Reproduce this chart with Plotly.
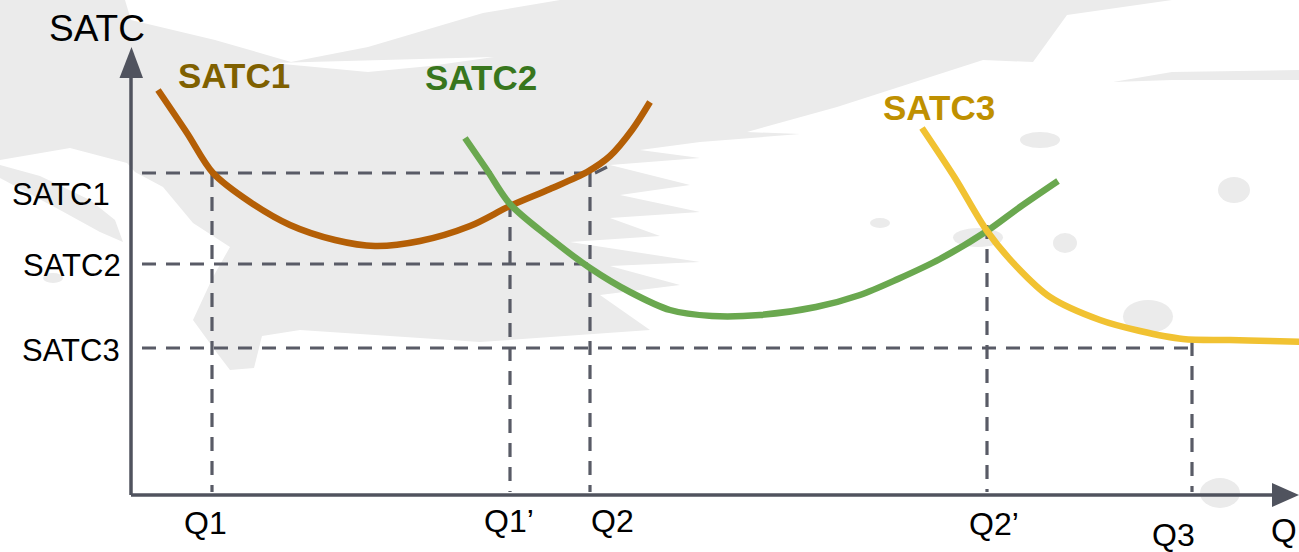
import plotly.graph_objects as go

# ---------------- data (Q and SATC in chart units) ----------------
satc1_q = [2.7, 5.6, 8.2, 11.9, 15.9, 20.4, 24.4, 28.9, 33.9, 37.9, 41.9, 45.6, 47.9, 50.1, 51.9]
satc1_v = [40.5, 36.2, 32.2, 29.3, 27.0, 25.5, 24.9, 25.4, 26.9, 28.9, 30.6, 32.3, 33.9, 36.5, 39.3]

satc2_q = [33.4, 35.6, 37.9, 41.9, 45.9, 49.9, 53.9, 58.1, 62.9, 68.5, 72.9, 76.7, 80.9, 85.6, 88.9, 92.7]
satc2_v = [35.7, 32.5, 29.1, 25.7, 22.7, 20.3, 18.5, 17.9, 18.0, 18.8, 20.0, 21.6, 23.6, 26.4, 28.8, 31.4]

satc3_q = [79.1, 82.4, 85.6, 88.6, 91.9, 96.9, 100.9, 105.2, 109.9, 113.9, 117.9]
satc3_v = [36.7, 31.7, 26.4, 22.8, 19.8, 17.5, 16.4, 15.6, 15.5, 15.4, 15.3]

# guide levels and quantities
level_names = ["SATC1", "SATC2", "SATC3"]
level_values = [32.2, 23.1, 14.7]
level_ends = [45.6, 46.0, 106.1]          # Q where horizontal guide stops

q_names = ["Q1", "Q1\u2019", "Q2", "Q2\u2019", "Q3"]
q_values = [8.1, 37.9, 45.9, 85.6, 106.1]
q_tops = [32.2, 29.2, 32.2, 27.0, 15.3]   # SATC where vertical guide starts

curve_names = ["SATC1", "SATC2", "SATC3"]

# ---------------- styles ----------------
W, H = 1299, 552
X0, X1 = -13.1, 116.8
Y0, Y1 = -5.7, 49.5
FONT = "Liberation Sans, Arial, sans-serif"
AXIS_C = "#50535e"
DASH_C = "#595b66"
GRAY = "#ebebeb"
curve_colors = ["#b45f06", "#6aa84f", "#f1c232"]
label_colors = ["#7f6000", "#38761d", "#bf9000"]


def px(x, y):
    return x / W, 1 - y / H


def path_from(points):
    s = ""
    for i, (x, y) in enumerate(points):
        a, b = px(x, y)
        s += ("M" if i == 0 else "L") + f"{a:.5f},{b:.5f} "
    return s + "Z"


fig = go.Figure()

# ---------------- decorative brush background ----------------
main_bg = [(0, 0), (125, 0), (131, 20), (215, 40), (291, 62), (368, 47), (483, 13), (560, 0),
           (1172, 0), (1067, 15), (1033, 62), (983, 60), (837, 107), (747, 132), (800, 134),
           (700, 142), (640, 150), (700, 158), (610, 165), (690, 185), (620, 195), (700, 212),
           (610, 218), (660, 236), (570, 242), (700, 262), (610, 266), (680, 285), (600, 295),
           (650, 330), (480, 342), (300, 330), (262, 336), (254, 368), (230, 370), (217, 353),
           (193, 320), (213, 277), (230, 247), (193, 223), (163, 187), (135, 172), (127, 163),
           (70, 148), (0, 160)]
band_bg = [(0, 165), (40, 176), (90, 200), (115, 220), (123, 242), (100, 232), (60, 210), (0, 178)]
streak1 = [(272, 63), (494, 57), (430, 66), (368, 72)]
strip_bg = [(1113, 82), (1172, 72), (1299, 70), (1299, 80), (1172, 80)]
shapes = []
for poly in [main_bg, band_bg, strip_bg]:
    shapes.append(dict(type="path", path=path_from(poly), xref="paper", yref="paper",
                       fillcolor=GRAY, line=dict(width=0), layer="below"))
shapes.append(dict(type="path", path=path_from(streak1), xref="paper", yref="paper",
                   fillcolor="white", line=dict(width=0), layer="below"))
blobs = [(1020, 132, 1060, 148), (1218, 177, 1250, 203), (1053, 233, 1077, 253),
         (953, 228, 1003, 247), (1123, 300, 1173, 333), (870, 218, 890, 228),
         (1200, 478, 1240, 508), (43, 273, 63, 283)]
for (xa, ya, xb, yb) in blobs:
    a0, b0 = px(xa, yb)
    a1, b1 = px(xb, ya)
    shapes.append(dict(type="circle", xref="paper", yref="paper", x0=a0, y0=b0, x1=a1, y1=b1,
                       fillcolor=GRAY, line=dict(width=0), layer="below"))

# ---------------- axes with arrows ----------------
shapes.append(dict(type="line", xref="x", yref="y", x0=0, y0=0, x1=0, y1=41.7,
                   line=dict(color=AXIS_C, width=3.5)))
shapes.append(dict(type="line", xref="x", yref="y", x0=0, y0=0, x1=114.2, y1=0,
                   line=dict(color=AXIS_C, width=3.5)))
shapes.append(dict(type="path", xref="x", yref="y",
                   path="M-1.15,41.7 L1.2,41.7 L0.05,44.8 Z",
                   fillcolor=AXIS_C, line=dict(width=0)))
shapes.append(dict(type="path", xref="x", yref="y",
                   path="M114.1,1.2 L114.1,-1.2 L116.8,0 Z",
                   fillcolor=AXIS_C, line=dict(width=0)))

# ---------------- dashed guides ----------------
dash_line = dict(color=DASH_C, width=3.2, dash="14px,10px")
for lv, le in zip(level_values, level_ends):
    fig.add_trace(go.Scatter(x=[1.1, le], y=[lv, lv], mode="lines", line=dash_line,
                             hoverinfo="skip"))
for qv, qt in zip(q_values, q_tops):
    fig.add_trace(go.Scatter(x=[qv, qv], y=[qt, 0.3], mode="lines", line=dash_line,
                             hoverinfo="skip"))
# small stray dash near SATC1/Q2 corner
fig.add_trace(go.Scatter(x=[46.4, 47.6], y=[32.2, 32.8], mode="lines",
                         line=dict(color=DASH_C, width=3.2), hoverinfo="skip"))

# ---------------- curves ----------------
for qs, vs, c in zip([satc1_q, satc2_q, satc3_q], [satc1_v, satc2_v, satc3_v], curve_colors):
    fig.add_trace(go.Scatter(x=qs, y=vs, mode="lines",
                             line=dict(color=c, width=6.5, shape="spline", smoothing=0.9),
                             hoverinfo="skip"))

# ---------------- labels ----------------
ann = []


def add_text(text, x, y, size, color="black", bold=False, xanchor="center"):
    a, b = px(x, y)
    ann.append(dict(text=f"<b>{text}</b>" if bold else text, x=a, y=b, xref="paper",
                    yref="paper", showarrow=False, xanchor=xanchor, yanchor="middle",
                    font=dict(family=FONT, size=size, color=color)))


add_text("SATC", 97, 28, 37)
add_text("Q", 1284, 530, 33)
ylab_pos = [(112, 194), (123, 265), (122, 350)]
for name, (x, y) in zip(level_names, ylab_pos):
    add_text(name, x, y, 31, xanchor="right")
qlab_pos = [(205, 523), (509, 521), (612, 521), (994, 524), (1173, 535)]
for name, (x, y) in zip(q_names, qlab_pos):
    add_text(name, x, y, 32)
clab_pos = [(234, 76), (481, 77), (939, 108)]
for name, (x, y), c in zip(curve_names, clab_pos, label_colors):
    add_text(name, x, y, 35, color=c, bold=True)

fig.update_layout(
    width=W, height=H, margin=dict(l=0, r=0, t=0, b=0),
    paper_bgcolor="white", plot_bgcolor="rgba(0,0,0,0)",
    showlegend=False, shapes=shapes, annotations=ann,
    xaxis=dict(range=[X0, X1], visible=False, fixedrange=True),
    yaxis=dict(range=[Y0, Y1], visible=False, fixedrange=True),
)

fig.write_html("out.html", config={"displayModeBar": False},
               post_script="document.body.style.margin='0';document.body.style.overflow='hidden';")
